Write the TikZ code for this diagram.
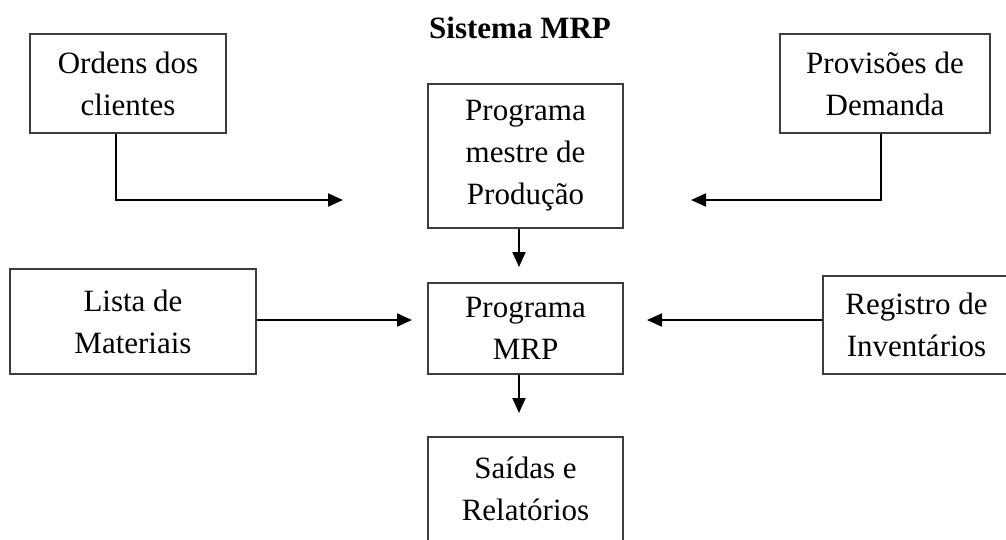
\documentclass[tikz,border=0pt]{standalone}
\usepackage{fontspec}
\setmainfont{Liberation Serif}
\usepackage{xcolor}
\usepackage{tikz}
\usetikzlibrary{arrows.meta}
\definecolor{ink}{HTML}{000000}
\definecolor{frame}{HTML}{3C3C3C}
\tikzset{
  box/.style={draw=frame, line width=2pt, align=center, inner sep=0pt, text=ink,
    font=\fontsize{31}{42}\selectfont},
  arr/.style={draw=ink, line width=2pt, -{Triangle[length=15pt,width=13pt]}},
  ttl/.style={text=ink, font=\fontsize{31}{42}\selectfont\bfseries},
}

\begin{document}
\begin{tikzpicture}[x=1pt,y=-1pt]
  \useasboundingbox (0,0) rectangle (1006,539);
  \node[ttl] (title) at (520,28) {Sistema MRP};
  % top row
  \node[box,minimum width=196pt,minimum height=99pt] (ordens) at (128,83.5) {Ordens dos\\clientes};
  \node[box,minimum width=210pt,minimum height=99pt] (provisoes) at (885,83.5) {Provisões de\\Demanda};
  \node[box,minimum width=195pt,minimum height=144pt] (mestre) at (525.5,156) {Programa\\mestre de\\Produção};
  % middle row
  \node[box,minimum width=246pt,minimum height=105pt] (lista) at (133,321.5) {Lista de\\Materiais};
  \node[box,minimum width=195pt,minimum height=91pt] (mrp) at (525.5,328.5) {Programa\\MRP};
  \node[box,minimum width=187pt,minimum height=98pt] (registro) at (916.5,325) {Registro de\\Inventários};
  % bottom
  \node[box,minimum width=195pt,minimum height=104pt] (saidas) at (525.5,489) {Saídas e\\Relatórios};
  % free arrow ends
  \coordinate (ordensIn) at (343,200);
  \coordinate (provIn) at (691,200);
  \coordinate (mestreOut) at (519,267);
  \coordinate (listaIn) at (412,320);
  \coordinate (registroIn) at (647,320);
  \coordinate (mrpOut) at (519,413);
  % connectors
  \draw[arr] ([xshift=-12pt]ordens.south) |- (ordensIn);
  \draw[arr] ([xshift=-4pt]provisoes.south) |- (provIn);
  \draw[arr] ([xshift=-6.5pt]mestre.south) -- (mestreOut);
  \draw[arr] (lista.east |- listaIn) -- (listaIn);
  \draw[arr] (registro.west |- registroIn) -- (registroIn);
  \draw[arr] ([xshift=-6.5pt]mrp.south) -- (mrpOut);
\end{tikzpicture}
\end{document}
